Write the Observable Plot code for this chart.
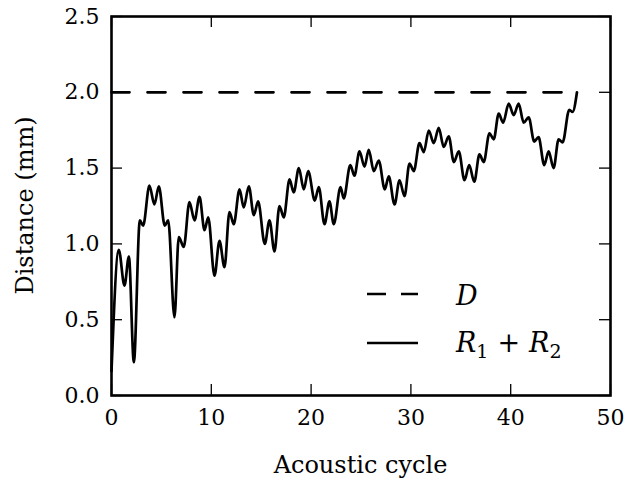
<!DOCTYPE html>
<html><head><meta charset="utf-8">
<script src="https://cdn.jsdelivr.net/npm/d3@7"></script>
<script src="https://cdn.jsdelivr.net/npm/@observablehq/plot@0.6"></script>
<style>body{margin:0;background:#fff} svg{display:block}</style>
</head><body><div id="chart"></div>
<script>
// R1 + R2 curve (acoustic cycle, distance in mm)
const cycle = [0, 0.73, 1.3, 1.74, 2.24, 2.84, 3.17, 3.8, 4.3, 4.74, 5.34, 5.68, 6.31, 6.74, 7.24, 7.81, 8.32, 8.82, 9.32, 9.69,
  10.32, 10.82, 11.32, 11.82, 12.25, 12.83, 13.25, 13.76, 14.26, 14.69, 15.36, 15.83, 16.33, 16.83, 17.26, 17.84, 18.26, 18.77, 19.27, 19.71,
  20.37, 20.77, 21.34, 21.84, 22.27, 22.95, 23.27, 23.93, 24.34, 24.85, 25.35, 25.78, 26.28, 26.78, 27.38, 27.78, 28.36, 28.86, 29.36, 29.86,
  30.29, 30.86, 31.29, 31.79, 32.29, 32.79, 33.29, 33.79, 34.3, 34.8, 35.37, 35.84, 36.35, 36.87, 37.3, 37.87, 38.3, 38.8, 39.24, 39.8,
  40.3, 40.8, 41.3, 41.8, 42.36, 42.79, 43.36, 43.8, 44.3, 44.8, 45.2, 45.87, 46.2, 46.64];
const distance = [0.16, 0.96, 0.725, 0.917, 0.22, 1.155, 1.12, 1.385, 1.26, 1.38, 1.12, 1.155, 0.516, 1.045, 0.98, 1.275, 1.155, 1.31, 1.09, 1.175,
  0.79, 1.02, 0.846, 1.21, 1.13, 1.36, 1.24, 1.38, 1.19, 1.28, 1.0, 1.155, 0.95, 1.25, 1.175, 1.425, 1.34, 1.5, 1.36, 1.48,
  1.286, 1.375, 1.13, 1.28, 1.13, 1.375, 1.3, 1.52, 1.45, 1.61, 1.51, 1.62, 1.48, 1.55, 1.36, 1.445, 1.26, 1.42, 1.315, 1.53,
  1.48, 1.665, 1.605, 1.748, 1.665, 1.765, 1.64, 1.71, 1.54, 1.61, 1.42, 1.52, 1.41, 1.59, 1.54, 1.73, 1.69, 1.86, 1.8, 1.925,
  1.85, 1.925, 1.8, 1.835, 1.675, 1.705, 1.52, 1.61, 1.5, 1.69, 1.67, 1.885, 1.87, 2.0];
// D (dashed reference)
const dCycle = [0, 46.64];
const dValue = [2.0, 2.0];
const xTicks = [0, 10, 20, 30, 40, 50];
const yTicks = [0, 0.5, 1.0, 1.5, 2.0, 2.5];
const xLabel = "Acoustic cycle";
const yLabel = "Distance (mm)";

const W = 626, H = 481, mL = 111, mR = 16, mT = 16, mB = 86;
const pw = W - mL - mR, ph = H - mT - mB;
const serif = "'DejaVu Serif', serif";
const tick = 11;
const series = cycle.map((c, i) => ({c, v: distance[i]}));
const dline = dCycle.map((c, i) => ({c, v: dValue[i]}));

const chart = Plot.plot({
  width: W, height: H, marginLeft: mL, marginRight: mR, marginTop: mT, marginBottom: mB,
  style: {fontFamily: serif, fontSize: "22px", background: "#fff", color: "#000"},
  x: {domain: [0, 50]},
  y: {domain: [0, 2.5]},
  marks: [
    Plot.line(dline, {x: "c", y: "v", stroke: "#000", strokeWidth: 2.7, strokeDasharray: "18,18"}),
    Plot.line(series, {x: "c", y: "v", stroke: "#000", strokeWidth: 2.7, curve: "monotone-x"}),
    Plot.ruleX(xTicks, {x: d => d, insetTop: ph - tick, stroke: "#000", strokeWidth: 1.3}),
    Plot.ruleX(xTicks, {x: d => d, insetBottom: ph - tick, stroke: "#000", strokeWidth: 1.3}),
    Plot.ruleY(yTicks, {y: d => d, insetRight: pw - tick, stroke: "#000", strokeWidth: 1.3}),
    Plot.ruleY(yTicks, {y: d => d, insetLeft: pw - tick, stroke: "#000", strokeWidth: 1.3}),
    Plot.axisX({ticks: xTicks, tickSize: 0, tickPadding: 14, fontSize: 22, label: null, tickFormat: d => String(d)}),
    Plot.axisY({ticks: yTicks, tickSize: 0, tickPadding: 12, fontSize: 22, label: null, tickFormat: d => d.toFixed(1)}),
    Plot.frame({stroke: "#000", strokeWidth: 2.6})
  ]
});
document.getElementById("chart").appendChild(chart);

const svg = d3.select(chart);
svg.append("text").attr("x", mL + pw / 2).attr("y", 473).attr("text-anchor", "middle")
  .attr("font-family", serif).attr("font-size", 24).attr("fill", "#000").text(xLabel);
svg.append("text").attr("transform", `translate(33,${mT + ph / 2}) rotate(-90)`).attr("text-anchor", "middle")
  .attr("font-family", serif).attr("font-size", 24).attr("fill", "#000").text(yLabel);

// legend
const lg = svg.append("g").attr("text-anchor", "start");
lg.append("line").attr("x1", 367).attr("x2", 418).attr("y1", 294).attr("y2", 294)
  .attr("stroke", "#000").attr("stroke-width", 2.7).attr("stroke-dasharray", "19,15");
lg.append("line").attr("x1", 367).attr("x2", 418).attr("y1", 343).attr("y2", 343)
  .attr("stroke", "#000").attr("stroke-width", 2.7);
lg.append("text").attr("x", 456).attr("y", 305).attr("text-anchor", "start").attr("font-family", serif).attr("font-style", "italic")
  .attr("font-size", 27).attr("fill", "#000").text("D");
const t2 = lg.append("text").attr("x", 456).attr("y", 352).attr("text-anchor", "start").attr("font-family", serif).attr("font-size", 27).attr("fill", "#000");
t2.append("tspan").attr("font-style", "italic").text("R");
t2.append("tspan").attr("font-size", 19).attr("dy", 6).text("1");
t2.append("tspan").attr("dy", -6).attr("dx", 9).text("+");
t2.append("tspan").attr("font-style", "italic").attr("dx", 9).text("R");
t2.append("tspan").attr("font-size", 19).attr("dy", 6).text("2");
</script>
</body></html>
